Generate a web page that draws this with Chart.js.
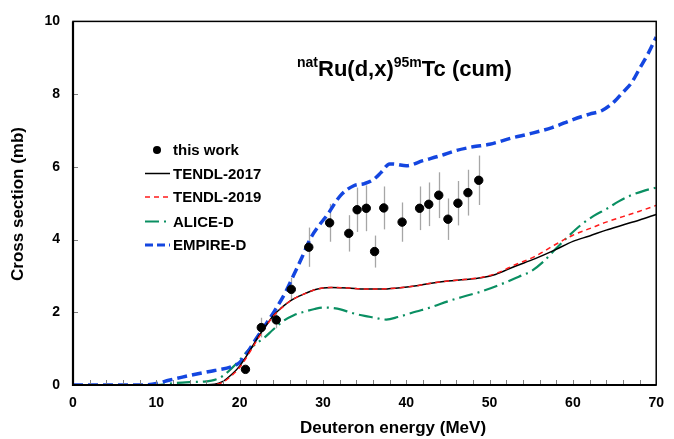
<!DOCTYPE html>
<html><head><meta charset="utf-8">
<script src="https://cdn.jsdelivr.net/npm/chart.js@4/dist/chart.umd.min.js"></script>
<style>html,body{margin:0;padding:0;background:#fff}#wrap{width:674px;height:439px}</style>
</head><body><div id="wrap"><canvas id="c" width="674" height="439"></canvas></div>
<script>
// ---- data ----
const expEnergy = [20.7, 22.6, 24.4, 26.2, 28.3, 30.8, 33.1, 34.1, 35.2, 36.2, 37.3, 39.5, 41.6, 42.7, 43.9, 45.0, 46.2, 47.4, 48.7];
const expXS     = [0.43, 1.58, 1.79, 2.63, 3.79, 4.46, 4.17, 4.82, 4.86, 3.67, 4.87, 4.48, 4.86, 4.97, 5.22, 4.56, 5.00, 5.29, 5.63];
const expErr    = [0.08, 0.27, 0.23, 0.32, 0.54, 0.52, 0.50, 0.61, 0.63, 0.44, 0.59, 0.54, 0.60, 0.60, 0.63, 0.57, 0.61, 0.63, 0.68];

const tendl17E  = [0, 15, 17, 18, 19, 20, 21, 22, 23, 24, 25, 26, 27, 28, 29, 30, 31, 33, 35, 37, 39, 41, 43, 45, 47, 49, 50.7, 53, 55.4, 57.8, 60, 62, 64, 66, 68, 70];
const tendl17XS = [0, 0, 0.02, 0.1, 0.28, 0.52, 0.86, 1.24, 1.58, 1.9, 2.12, 2.3, 2.43, 2.53, 2.62, 2.67, 2.68, 2.67, 2.64, 2.64, 2.67, 2.72, 2.8, 2.86, 2.9, 2.95, 3.04, 3.26, 3.47, 3.71, 3.95, 4.1, 4.26, 4.4, 4.54, 4.69];

const tendl19E  = [0, 15, 17, 18, 19, 20, 21, 22, 23, 24, 25, 26, 27, 28, 29, 30, 31, 33, 35, 37, 39, 41, 43, 45, 47, 49, 50.7, 53, 55.4, 57.8, 60, 62, 64, 66, 68, 70];
const tendl19XS = [0, 0, 0.01, 0.08, 0.25, 0.48, 0.82, 1.2, 1.56, 1.88, 2.11, 2.3, 2.43, 2.53, 2.62, 2.67, 2.68, 2.67, 2.64, 2.64, 2.67, 2.72, 2.8, 2.86, 2.9, 2.96, 3.06, 3.3, 3.53, 3.85, 4.12, 4.3, 4.48, 4.63, 4.78, 4.94];

const aliceE  = [0, 10, 12, 14, 16, 17, 18, 19, 20, 21, 22, 23, 24, 25.3, 26.5, 27.7, 29, 30.1, 31, 32.1, 33.5, 35, 36, 37.6, 39, 41.2, 43, 45.1, 47, 49, 51.8, 53.5, 55, 56.5, 57.8, 59.5, 60.9, 62.5, 64.1, 65.5, 66.9, 68.5, 70];
const aliceXS = [0, 0, 0.05, 0.08, 0.1, 0.14, 0.25, 0.45, 0.68, 0.95, 1.14, 1.31, 1.52, 1.77, 1.92, 2.01, 2.09, 2.13, 2.12, 2.08, 1.98, 1.9, 1.86, 1.8, 1.87, 2.02, 2.14, 2.31, 2.44, 2.57, 2.81, 2.98, 3.13, 3.4, 3.71, 4.1, 4.39, 4.65, 4.85, 5.05, 5.21, 5.34, 5.43];

const empireE  = [0, 5, 8, 10, 11.5, 13, 15, 17, 19, 20, 21, 22, 23, 24.2, 25.5, 26.5, 27.5, 28.5, 29.5, 30.5, 32.1, 33.7, 35, 36, 37, 38, 38.8, 40, 42, 44, 46, 48, 50, 52.6, 55, 57.5, 60, 62, 63.5, 65, 66, 67, 68, 69, 70];
const empireXS = [0, 0, 0, 0.04, 0.13, 0.21, 0.31, 0.4, 0.5, 0.62, 0.92, 1.28, 1.62, 2.04, 2.55, 3.03, 3.52, 4.03, 4.38, 4.67, 5.21, 5.48, 5.54, 5.64, 5.85, 6.08, 6.07, 6.03, 6.17, 6.3, 6.45, 6.55, 6.62, 6.79, 6.92, 7.08, 7.3, 7.45, 7.55, 7.8, 8.05, 8.3, 8.7, 9.1, 9.57];

const xTickValues = [0, 10, 20, 30, 40, 50, 60, 70];
const yTickValues = [0, 2, 4, 6, 8, 10];
const seriesNames = ['this work', 'TENDL-2017', 'TENDL-2019', 'ALICE-D', 'EMPIRE-D'];

// ---- styles ----
const COL_BLACK = '#000000', COL_RED = '#ff1a1a', COL_GREEN = '#0a8f62', COL_BLUE = '#1446e0';
const DASH_RED = [5, 4], DASH_GREEN = [14, 5, 2, 5], DASH_BLUE = [10, 5];
const FONT = '"Liberation Sans", Arial, sans-serif';

const pts = (xs, ys) => xs.map((v, i) => ({x: v, y: ys[i]}));

const deco = {
  id: 'deco',
  beforeDatasetsDraw(chart) {
    const {ctx, scales: {x, y}} = chart;
    ctx.save();
    ctx.strokeStyle = '#a6a6a6'; ctx.lineWidth = 1.3;
    expEnergy.forEach((e, i) => {
      const px = Math.round(x.getPixelForValue(e)) + 0.5;
      ctx.beginPath();
      ctx.moveTo(px, y.getPixelForValue(expXS[i] - expErr[i]));
      ctx.lineTo(px, y.getPixelForValue(expXS[i] + expErr[i]));
      ctx.stroke();
    });
    ctx.restore();
  },
  afterDraw(chart) {
    const {ctx, chartArea: a, scales: {x, y}} = chart;
    ctx.save();
    // minor ticks (inside)
    ctx.strokeStyle = '#808080'; ctx.lineWidth = 1;
    for (let v = 2; v < 70; v += 2) {
      const px = Math.round(x.getPixelForValue(v)) + 0.5;
      ctx.beginPath(); ctx.moveTo(px, a.bottom); ctx.lineTo(px, a.bottom - 5); ctx.stroke();
    }
    for (let v = 2; v < 10; v += 2) {
      const py = Math.round(y.getPixelForValue(v)) + 0.5;
      ctx.beginPath(); ctx.moveTo(a.left, py); ctx.lineTo(a.left + 5, py); ctx.stroke();
    }
    // frame
    ctx.strokeStyle = '#000'; ctx.lineWidth = 1.5;
    ctx.strokeRect(a.left, a.top, a.right - a.left, a.bottom - a.top);
    ctx.lineWidth = 2.2;
    ctx.beginPath(); ctx.moveTo(a.left, a.top); ctx.lineTo(a.left, a.bottom); ctx.lineTo(a.right, a.bottom); ctx.stroke();

    // title with superscripts
    const parts = [
      {t: 'nat', sup: true}, {t: 'Ru(d,x)'}, {t: '95m', sup: true}, {t: 'Tc (cum)'}
    ];
    let tx = 297; const base = 76;
    ctx.fillStyle = '#000'; ctx.textBaseline = 'alphabetic'; ctx.textAlign = 'left';
    parts.forEach(p => {
      ctx.font = p.sup ? 'bold 14px ' + FONT : 'bold 22px ' + FONT;
      ctx.fillText(p.t, tx, p.sup ? base - 9 : base);
      tx += ctx.measureText(p.t).width;
    });

    // axis titles
    ctx.font = 'bold 17px ' + FONT;
    ctx.textAlign = 'center'; ctx.textBaseline = 'middle';
    ctx.fillText('Deuteron energy (MeV)', 393, 428);
    ctx.save(); ctx.translate(18, 204); ctx.rotate(-Math.PI / 2);
    ctx.fillText('Cross section (mb)', 0, 0); ctx.restore();

    // legend
    const lx0 = 145, lx1 = 170, tx0 = 173, ys = [150, 173.5, 197, 221.5, 245];
    ctx.font = 'bold 15px ' + FONT;
    ctx.textAlign = 'left'; ctx.textBaseline = 'middle';
    ctx.fillStyle = '#000';
    ctx.beginPath(); ctx.arc(157, ys[0], 4, 0, Math.PI * 2); ctx.fill();
    const styles = [null,
      {c: COL_BLACK, w: 1.5, d: []},
      {c: COL_RED, w: 1.5, d: DASH_RED},
      {c: COL_GREEN, w: 2.2, d: DASH_GREEN},
      {c: COL_BLUE, w: 3.2, d: [8, 4]}];
    for (let i = 1; i < 5; i++) {
      const s = styles[i];
      ctx.strokeStyle = s.c; ctx.lineWidth = s.w; ctx.setLineDash(s.d);
      ctx.beginPath(); ctx.moveTo(lx0, ys[i]); ctx.lineTo(lx1, ys[i]); ctx.stroke();
    }
    ctx.setLineDash([]);
    seriesNames.forEach((n, i) => ctx.fillText(n, tx0, ys[i] + 1));
    ctx.restore();
  }
};

new Chart(document.getElementById('c'), {
  type: 'line',
  data: {
    datasets: [
      {label: seriesNames[0], type: 'scatter', data: pts(expEnergy, expXS), backgroundColor: '#000', borderColor: '#000', pointRadius: 4.2, pointHoverRadius: 4.2, showLine: false, order: 0},
      {label: seriesNames[2], data: pts(tendl19E, tendl19XS), borderColor: COL_RED, borderWidth: 1.5, borderDash: DASH_RED, pointRadius: 0, cubicInterpolationMode: 'monotone', fill: false, order: 1},
      {label: seriesNames[1], data: pts(tendl17E, tendl17XS), borderColor: COL_BLACK, borderWidth: 1.5, pointRadius: 0, cubicInterpolationMode: 'monotone', fill: false, order: 2},
      {label: seriesNames[4], data: pts(empireE, empireXS), borderColor: COL_BLUE, borderWidth: 3.5, borderDash: DASH_BLUE, pointRadius: 0, cubicInterpolationMode: 'monotone', fill: false, order: 3},
      {label: seriesNames[3], data: pts(aliceE, aliceXS), borderColor: COL_GREEN, borderWidth: 2.2, borderDash: DASH_GREEN, pointRadius: 0, cubicInterpolationMode: 'monotone', fill: false, order: 4}
    ]
  },
  options: {
    responsive: false, animation: false, devicePixelRatio: 1,
    layout: {padding: {left: 0, right: 11, top: 17, bottom: 0}},
    plugins: {legend: {display: false}, tooltip: {enabled: false}, title: {display: false}},
    scales: {
      x: {
        type: 'linear', min: 0, max: 70,
        afterBuildTicks: s => { s.ticks = xTickValues.map(v => ({value: v})); },
        afterFit: s => { s.height = 54; },
        grid: {display: false, drawTicks: false},
        border: {display: false},
        ticks: {color: '#000', font: {family: FONT, size: 14, weight: 'bold'}, padding: 10, maxRotation: 0, autoSkip: false}
      },
      y: {
        type: 'linear', min: 0, max: 10,
        afterBuildTicks: s => { s.ticks = yTickValues.map(v => ({value: v})); },
        afterFit: s => { s.width = 73; },
        grid: {display: false, drawTicks: false},
        border: {display: false},
        ticks: {color: '#000', font: {family: FONT, size: 14, weight: 'bold'}, padding: 13}
      }
    }
  },
  plugins: [deco]
});
</script></body></html>
